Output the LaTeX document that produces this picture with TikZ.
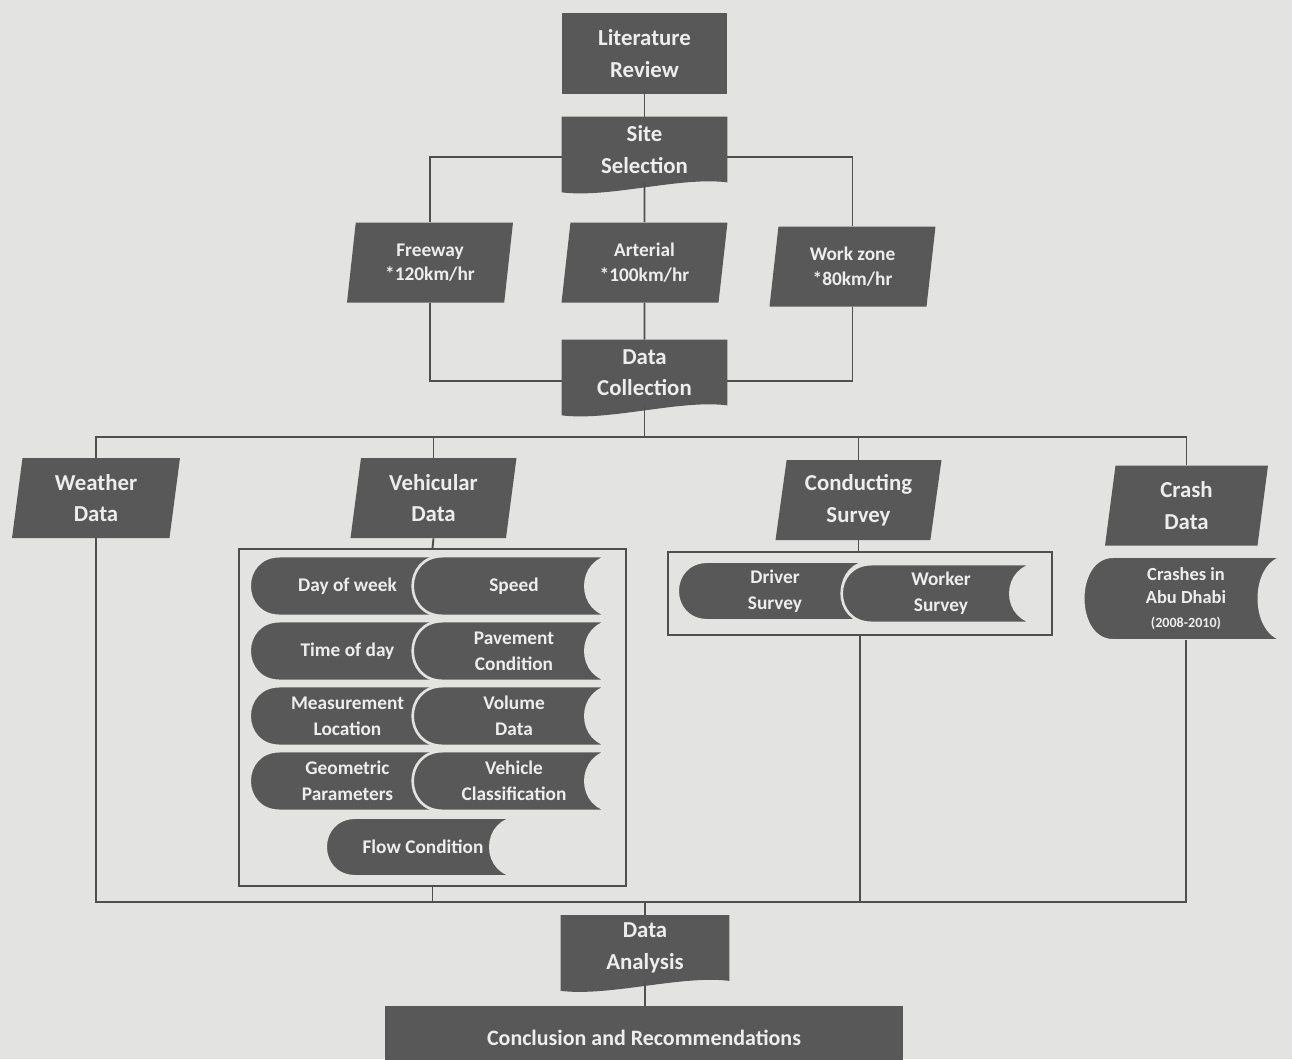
\documentclass[tikz,border=0pt]{standalone}
\usepackage{fontspec}
\setmainfont{Carlito}
\usetikzlibrary{shapes.geometric,backgrounds,calc}
\definecolor{pagebg}{HTML}{E3E3E1}
\definecolor{boxgray}{HTML}{585858}
\definecolor{txtgray}{HTML}{EDEDED}
\definecolor{linegray}{HTML}{4F4F4F}
\tikzset{
  txt/.style={text=txtgray, font=\bfseries\fontsize{13}{18}\selectfont, align=center},
  block/.style={txt, rectangle, fill=boxgray, minimum width=3.3cm, minimum height=1.62cm},
  docbox/.style={txt, rectangle, minimum width=3.3cm, minimum height=1.3cm},
  para/.style={txt, trapezium, trapezium left angle=80, trapezium right angle=100,
    trapezium stretches body, fill=boxgray, minimum width=3.32cm, minimum height=1.6cm},
  store/.style={txt, font=\bfseries\fontsize{11}{15}\selectfont, rectangle, minimum height=1.18cm},
  link/.style={draw=linegray, line width=1.1pt},
}
\begin{document}
\begin{tikzpicture}[x=0.02cm,y=-0.02cm]
\useasboundingbox (0,0) rectangle (1292,1059);
\node[block] (lit) at (644.5,53.5) {Literature\\Review};
\node[docbox] (site) at (644.5,149.5) {Site\\Selection};
\node[para,font=\bfseries\fontsize{11}{14}\selectfont] (fwy) at (430,262.5) {Freeway\\*120km/hr};
\node[para,font=\bfseries\fontsize{11}{14}\selectfont] (art) at (644.5,262.5) {Arterial\\*100km/hr};
\node[para,font=\bfseries\fontsize{11}{14}\selectfont] (wzn) at (852.5,266.5) {Work zone\\*80km/hr};
\node[docbox] (coll) at (644.5,372.5) {Data\\Collection};
\node[para,minimum width=3.36cm] (wthr) at (96,498) {Weather\\Data};
\node[para] (veh) at (433.5,498) {Vehicular\\Data};
\node[para] (cond) at (858.5,500) {Conducting\\Survey};
\node[para,minimum width=3.26cm] (crsh) at (1186.5,505.5) {Crash\\Data};
\node[draw=linegray,line width=1.1pt,minimum width=7.74cm,minimum height=6.74cm] (vbox) at (432.5,717.5) {};
\node[store,minimum width=3.9cm] (dow) at (347.5,586) {Day of week};
\node[store,minimum width=3.9cm] (tod) at (347.5,651) {Time of day};
\node[store,minimum width=3.9cm] (mloc) at (347.5,716) {Measurement\\Location};
\node[store,minimum width=3.9cm] (geo) at (347.5,781) {Geometric\\Parameters};
\node[store,minimum width=4.04cm] (spd) at (514,586) {Speed};
\node[store,minimum width=4.04cm] (pav) at (514,651) {Pavement\\Condition};
\node[store,minimum width=4.04cm] (vol) at (514,716) {Volume\\Data};
\node[store,minimum width=4.04cm] (vcls) at (514,781) {Vehicle\\Classification};
\node[store,minimum width=3.88cm,minimum height=1.16cm] (flow) at (423,847) {Flow Condition};
\node[draw=linegray,line width=1.1pt,minimum width=7.68cm,minimum height=1.66cm] (sbox) at (860,593.5) {};
\node[store,minimum width=3.88cm,minimum height=1.16cm] (drv) at (775,591) {Driver\\Survey};
\node[store,minimum width=3.96cm,minimum height=1.16cm] (wrk) at (941,593.5) {Worker\\Survey};
\node[store,minimum width=4.1cm,minimum height=1.66cm,font=\bfseries\fontsize{10.5}{13.5}\selectfont] (crshab) at (1186,598.5)
  {Crashes in\\Abu Dhabi\\{\fontsize{8}{12}\selectfont(2008-2010)}};
\node[docbox,minimum width=3.36cm] (anal) at (645,948) {Data\\Analysis};
\node[block,minimum width=10.36cm,minimum height=1.28cm,font=\bfseries\fontsize{12.5}{16}\selectfont] (concl) at (644,1038) {Conclusion and Recommendations};
\coordinate (topbus) at (644.5,437);
\coordinate (botbus) at (645,902);
\begin{scope}[on background layer]
\fill[pagebg] (0,0) rectangle (1292,1059);
\foreach \n in {site,coll,anal}
  \fill[boxgray] (\n.north west) -- (\n.north east) -- (\n.south east)
    .. controls +(-47,-6) and +(48,6) .. ($(\n.south west)+(0,10)$) -- cycle;
\foreach \n in {dow,tod,mloc,geo,flow,drv,crshab,spd,pav,vol,vcls,wrk}
  \filldraw[fill=boxgray,draw=pagebg,line width=1.5pt] ([xshift=0.6cm]\n.north west) -- (\n.north east)
    .. controls ([xshift=-0.8cm]\n.north east) and ([xshift=-0.8cm]\n.south east) .. (\n.south east)
    -- ([xshift=0.6cm]\n.south west)
    .. controls ([xshift=-0.2cm]\n.south west) and ([xshift=-0.2cm]\n.north west) .. ([xshift=0.6cm]\n.north west) -- cycle;
\end{scope}
\draw[link] (lit) -- (site);
\draw[link] ([yshift=-4pt]site.west) -| (fwy.north);
\draw[link] ([yshift=-4pt]site.east) -| (wzn.north);
\draw[link] (site.south) -- (art.north);
\draw[link] (fwy.south) |- ([yshift=-4.8pt]coll.west);
\draw[link] (wzn.south) |- ([yshift=-4.8pt]coll.east);
\draw[link] (art.south) -- (coll.north);
\draw[link] (coll.south) -- (topbus);
\draw[link] (wthr.north) |- (topbus) -| (crsh.north);
\foreach \n in {veh,cond}
  \draw[link] (\n.north) -- (\n.north |- topbus);
\draw[link] (veh.south) -- (vbox.north);
\draw[link] (cond.south) -- (cond.south |- sbox.north);
\draw[link] (wthr.south) |- (botbus) -| (crshab.south);
\foreach \n in {vbox,sbox}
  \draw[link] (\n.south) -- (\n.south |- botbus);
\draw[link] (botbus) -- (anal.north);
\draw[link] (anal.south) -- (anal.south |- concl.north);
\end{tikzpicture}
\end{document}
